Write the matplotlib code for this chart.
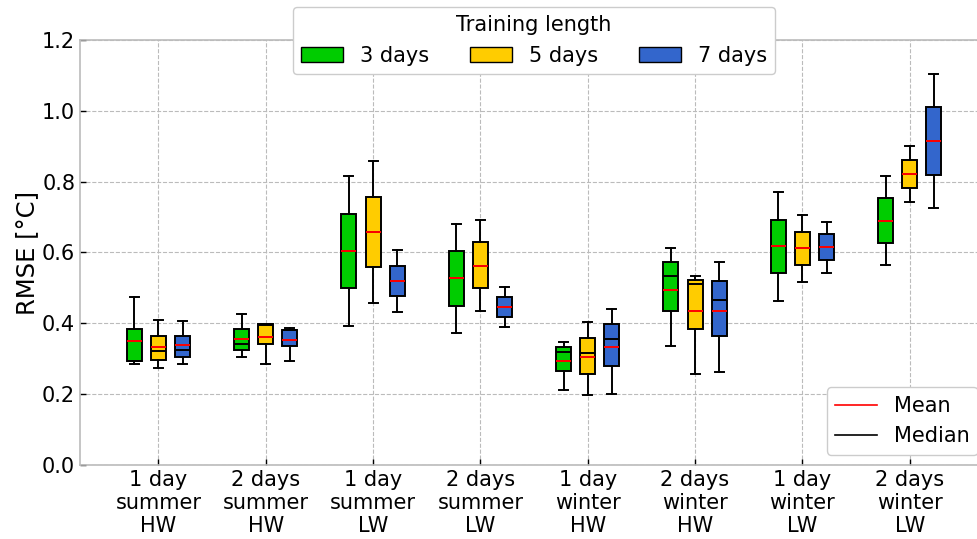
import numpy as np
import matplotlib
matplotlib.use("Agg")
import matplotlib.pyplot as plt
from matplotlib.patches import Patch
from matplotlib.lines import Line2D

# scenario labels on the x axis
scenarios = ["1 day\nsummer\nHW", "2 days\nsummer\nHW", "1 day\nsummer\nLW", "2 days\nsummer\nLW",
             "1 day\nwinter\nHW", "2 days\nwinter\nHW", "1 day\nwinter\nLW", "2 days\nwinter\nLW"]
train_labels = ["3 days", "5 days", "7 days"]
train_colors = ["#00cc00", "#ffcc00", "#3366cc"]

# RMSE box statistics per training length (one entry per scenario)
lo_3 = [0.284, 0.305, 0.392, 0.374, 0.212, 0.337, 0.464, 0.566]
q1_3 = [0.293, 0.324, 0.499, 0.450, 0.265, 0.435, 0.541, 0.628]
med_3 = [0.295, 0.342, 0.604, 0.527, 0.320, 0.533, 0.617, 0.690]
mean_3 = [0.351, 0.357, 0.604, 0.527, 0.293, 0.495, 0.617, 0.690]
q3_3 = [0.384, 0.383, 0.710, 0.603, 0.333, 0.573, 0.693, 0.753]
hi_3 = [0.475, 0.425, 0.817, 0.681, 0.348, 0.614, 0.771, 0.816]

lo_5 = [0.273, 0.286, 0.457, 0.435, 0.198, 0.258, 0.518, 0.743]
q1_5 = [0.297, 0.341, 0.558, 0.500, 0.257, 0.384, 0.565, 0.782]
med_5 = [0.322, 0.396, 0.658, 0.563, 0.317, 0.511, 0.612, 0.822]
mean_5 = [0.334, 0.361, 0.658, 0.563, 0.306, 0.435, 0.612, 0.822]
q3_5 = [0.364, 0.397, 0.757, 0.629, 0.359, 0.522, 0.659, 0.861]
hi_5 = [0.408, 0.399, 0.857, 0.693, 0.403, 0.535, 0.707, 0.901]

lo_7 = [0.286, 0.294, 0.433, 0.390, 0.200, 0.263, 0.543, 0.725]
q1_7 = [0.304, 0.336, 0.477, 0.418, 0.279, 0.365, 0.579, 0.820]
med_7 = [0.324, 0.380, 0.520, 0.447, 0.357, 0.467, 0.615, 0.916]
mean_7 = [0.339, 0.353, 0.520, 0.447, 0.332, 0.435, 0.615, 0.916]
q3_7 = [0.364, 0.381, 0.562, 0.474, 0.398, 0.519, 0.651, 1.010]
hi_7 = [0.407, 0.387, 0.606, 0.503, 0.441, 0.573, 0.687, 1.104]

series = [
    (lo_3, q1_3, med_3, mean_3, q3_3, hi_3),
    (lo_5, q1_5, med_5, mean_5, q3_5, hi_5),
    (lo_7, q1_7, med_7, mean_7, q3_7, hi_7),
]

fig = plt.figure(figsize=(9.77, 5.39), dpi=100)
ax = fig.add_axes([0.0819, 0.1373, 0.9294, 0.7885])

x = np.arange(len(scenarios))
offsets = [-0.225, 0.0, 0.225]
width = 0.14

for k, (lo, q1, med, mean, q3, hi) in enumerate(series):
    stats = [dict(whislo=lo[i], q1=q1[i], med=med[i], mean=mean[i], q3=q3[i], whishi=hi[i], fliers=[])
             for i in range(len(scenarios))]
    ax.bxp(stats, positions=x + offsets[k], widths=width, capwidths=width * 0.6,
           patch_artist=True, showmeans=True, meanline=True, manage_ticks=False,
           boxprops=dict(facecolor=train_colors[k], edgecolor="black", linewidth=1.4),
           whiskerprops=dict(color="black", linewidth=1.4),
           capprops=dict(color="black", linewidth=1.4),
           medianprops=dict(color="black", linewidth=1.4),
           meanprops=dict(color="red", linestyle="-", linewidth=1.4))

ax.set_xlim(-0.73, 7.73)
ax.set_ylim(0, 1.2)
ax.set_xticks(x)
ax.set_xticklabels(scenarios, fontsize=15)
ax.set_yticks(np.arange(0, 1.21, 0.2))
ax.set_yticklabels([f"{v:.1f}" for v in np.arange(0, 1.21, 0.2)], fontsize=15)
ax.set_ylabel("RMSE [°C]", fontsize=17.5, labelpad=2)
ax.tick_params(direction="in", length=4, width=1, colors="black")
ax.grid(True, linestyle="--", color="#bbbbbb", linewidth=0.8)
ax.set_axisbelow(True)
for sp in ax.spines.values():
    sp.set_color("#bbbbbb")
    sp.set_linewidth(1.2)

# legend for training lengths on top
handles = [Patch(facecolor=c, edgecolor="black", label=l) for c, l in zip(train_colors, train_labels)]
leg1 = ax.legend(handles=handles, title="Training length", ncol=3, loc="upper center",
                 bbox_to_anchor=(0.5, 1.102), fontsize=15, title_fontsize=15,
                 handlelength=2.0, columnspacing=2.0, framealpha=1.0)
ax.add_artist(leg1)

# mean / median line legend
lines = [Line2D([0], [0], color="red", lw=1.2, label="Mean"),
         Line2D([0], [0], color="black", lw=1.2, label="Median")]
ax.legend(handles=lines, loc="lower right", fontsize=15, handlelength=2.0, framealpha=1.0)

fig.savefig("out.png", dpi=100)
